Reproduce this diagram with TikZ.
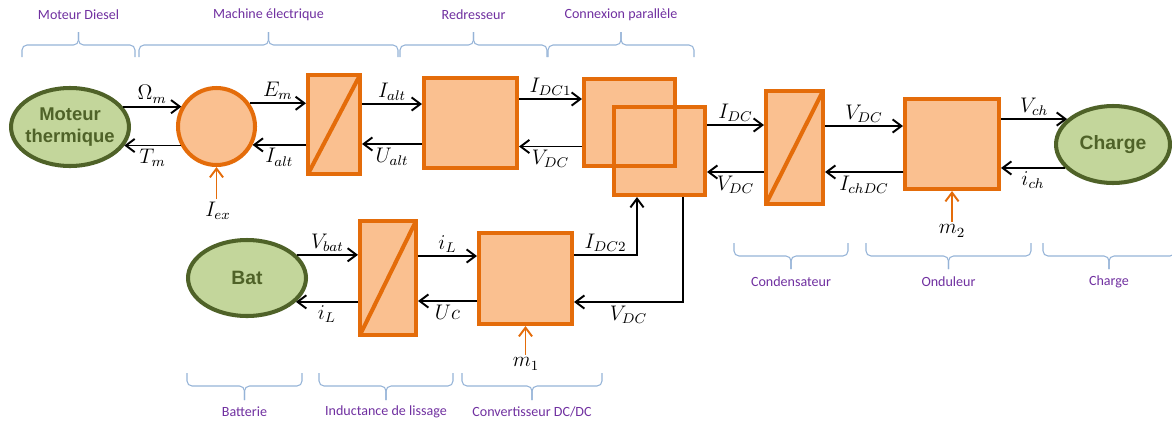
\documentclass[tikz,border=0pt]{standalone}
\usepackage{fontspec}
\newfontfamily\carlito{Carlito}
\newfontfamily\liberation{Liberation Sans}
\usetikzlibrary{shapes.geometric,arrows.meta,calc}
\definecolor{orangeline}{RGB}{228,108,10}
\definecolor{orangefill}{RGB}{250,192,144}
\definecolor{greenline}{RGB}{79,98,40}
\definecolor{greenfill}{RGB}{195,214,155}
\definecolor{bracecol}{RGB}{149,179,215}
\definecolor{textpurple}{RGB}{112,48,160}
\tikzstyle{block}=[rectangle,draw=orangeline,fill=orangefill,line width=2.3pt,inner sep=0pt]
\tikzstyle{source}=[ellipse,draw=greenline,fill=greenfill,line width=2.3pt,inner sep=0pt]
\tikzstyle{sourcetext}=[text=greenline,font=\liberation\bfseries\fontsize{10.5}{13}\selectfont,align=center,inner sep=0pt]
\tikzstyle{border}=[orangeline,line width=2.3pt]
\tikzstyle{edge}=[draw,line width=1.1pt,-{Straight Barb[length=5pt,width=7.5pt]}]
\tikzstyle{ctrl}=[draw=orangeline,line width=1.1pt,-{Straight Barb[length=5pt,width=7.5pt]}]
\tikzstyle{weight}=[font=\large,inner sep=1.5pt]
\tikzstyle{group}=[draw=bracecol,line width=0.6pt,rounded corners=0.1cm]
\tikzstyle{grouplabel}=[font=\carlito\fontsize{8}{9.6}\selectfont,text=textpurple]
\newcommand{\grp}[8]{%
  \draw[group] (#2,#4) |- ({(#2+#3)/2},#5) -- ({(#2+#3)/2},#6);
  \draw[group] (#3,#4) |- ({(#2+#3)/2},#5) -- ({(#2+#3)/2},#6);
  \node[grouplabel] (#1) at ({(#2+#3)/2},#7) {#8};}

\begin{document}
\begin{tikzpicture}[x=0.02cm,y=-0.02cm]
        \useasboundingbox (0,0) rectangle (1172,423);
        \node[source,minimum width=2.36cm,minimum height=1.56cm,label={[sourcetext]center:Moteur\\thermique}] (mt) at (70,127) {};
        \node[block,circle,minimum size=1.54cm] (circ) at (216.5,126.5) {};
        \node[block,minimum width=1.04cm,minimum height=1.98cm] (mach) at (334,124.5) {};
        \node[block,minimum width=1.86cm,minimum height=1.8cm] (red) at (470.5,123) {};
        \node[block,minimum width=1.82cm,minimum height=1.74cm] (parA) at (629.5,122.5) {};
        \node[block,minimum width=1.82cm,minimum height=1.76cm] (parB) at (659.5,151) {};
        \node[block,minimum width=1.14cm,minimum height=2.26cm] (cond) at (794.5,147.5) {};
        \node[block,minimum width=1.88cm,minimum height=1.8cm] (ond) at (952,144) {};
        \node[source,minimum width=2.28cm,minimum height=1.54cm,label={[sourcetext,font=\liberation\bfseries\fontsize{11}{13}\selectfont]center:Charge}] (ch) at (1113,144.5) {};
        \node[source,minimum width=2.36cm,minimum height=1.52cm,label={[sourcetext,font=\liberation\bfseries\fontsize{11}{13}\selectfont]center:Bat}] (bat) at (247,278) {};
        \node[block,minimum width=1.12cm,minimum height=2.28cm] (ind) at (388,278) {};
        \node[block,minimum width=1.86cm,minimum height=1.82cm] (dcdc) at (525.5,278.5) {};
        \node[weight] (iex) at (218,211) {$I_{ex}$};
        \node[weight] (m1) at (526,364) {$m_1$};
        \node[weight] (m2) at (952,231) {$m_2$};
        \draw[border] ([shift={(1.15pt,-1.15pt)}]parA.north west) rectangle ([shift={(-1.15pt,1.15pt)}]parA.south east);
        \draw[border] ([shift={(1.15pt,1.15pt)}]mach.south west) -- ([shift={(-1.15pt,-1.15pt)}]mach.north east);
        \draw[border] ([shift={(1.15pt,1.15pt)}]ind.south west) -- ([shift={(-1.15pt,-1.15pt)}]ind.north east);
        \draw[border] ([shift={(1.15pt,1.15pt)}]cond.south west) -- ([shift={(-1.15pt,-1.15pt)}]cond.north east);
        \path[edge] (mt.21) -- node[weight,above] {$\Omega_m$} (circ.150 |- mt.21);
        \path[edge] (circ.208) -- node[weight,below] {$T_m$} (mt.-19 |- circ.208);
        \path[edge] (circ.35) -- node[weight,above] {$E_m$} (mach.west |- circ.35);
        \path[edge] (mach.west |- circ.-27) -- node[weight,below] {$I_{alt}$} (circ.-27);
        \path[edge] ($(mach.east)+(0,-20.5)$) -- node[weight,above] {$I_{alt}$} ($(red.west)+(0,-19)$);
        \path[edge] ($(red.west)+(0,21)$) -- node[weight,below] {$U_{alt}$} ($(mach.east)+(0,19.5)$);
        \path[edge] ($(red.east)+(0,-24)$) -- node[weight,above] {$I_{DC1}$} ($(parA.west)+(0,-23.5)$);
        \path[edge] ($(parA.west)+(0,24)$) -- node[weight,below] {$V_{DC}$} ($(red.east)+(0,23.5)$);
        \path[edge] ($(parB.east)+(0,-26)$) -- node[weight,above] {$I_{DC}$} ($(cond.west)+(0,-22.5)$);
        \path[edge] ($(cond.west)+(0,24.5)$) -- node[weight,below] {$V_{DC}$} ($(parB.east)+(0,21)$);
        \path[edge] ($(cond.east)+(0,-21.5)$) -- node[weight,above] {$V_{DC}$} ($(ond.west)+(0,-18)$);
        \path[edge] ($(ond.west)+(0,28)$) -- node[weight,below] {$I_{chDC}$} ($(cond.east)+(0,24.5)$);
        \path[edge] (ond.east |- ch.151) -- node[weight,above] {$V_{ch}$} (ch.151);
        \path[edge] (ch.206) -- node[weight,below] {$i_{ch}$} (ond.east |- ch.206);
        \path[edge] (bat.25) -- node[weight,above] {$V_{bat}$} (ind.west |- bat.25);
        \path[edge] (ind.west |- bat.-26) -- node[weight,below] {$i_L$} (bat.-26);
        \path[edge] ($(ind.east)+(0,-22)$) -- node[weight,above] {$i_L$} ($(dcdc.west)+(0,-22.5)$);
        \path[edge] ($(dcdc.west)+(0,22.5)$) -- node[weight,below] {$Uc$} ($(ind.east)+(0,23)$);
        \path[edge] ($(dcdc.east)+(0,-23.5)$) -| node[weight,above,pos=0.25] {$I_{DC2}$} ($(parB.south)+(-22.5,0)$);
        \path[edge] ($(parB.south)+(23.5,0)$) |- node[weight,below,pos=0.75] {$V_{DC}$} ($(dcdc.east)+(0,23.5)$);
        \path[ctrl] (circ.south |- iex.north) -- (circ.south);
        \path[ctrl] (dcdc.south |- m1.north) -- (dcdc.south);
        \path[ctrl] (ond.south |- m2.north) -- (ond.south);
        \grp{g1}{22}{135}{57}{45}{32}{15}{Moteur Diesel}
        \grp{g2}{139}{398}{57}{45}{32}{15}{Machine électrique}
        \grp{g3}{400}{547}{57}{45}{32}{15}{Redresseur}
        \grp{g4}{548}{694}{57}{45}{32}{15}{Connexion parallèle}
        \grp{g5}{734}{848}{243}{256}{269}{282}{Condensateur}
        \grp{g6}{866}{1031}{243}{256}{269}{282}{Onduleur}
        \grp{g7}{1043}{1175}{243}{256}{269}{282}{Charge}
        \grp{g8}{187}{302}{373}{386}{400}{412}{Batterie}
        \grp{g9}{319}{453}{373}{386}{400}{412}{Inductance de lissage}
        \grp{g10}{462}{602}{373}{386}{400}{412}{Convertisseur DC/DC}
    \end{tikzpicture}
\end{document}
